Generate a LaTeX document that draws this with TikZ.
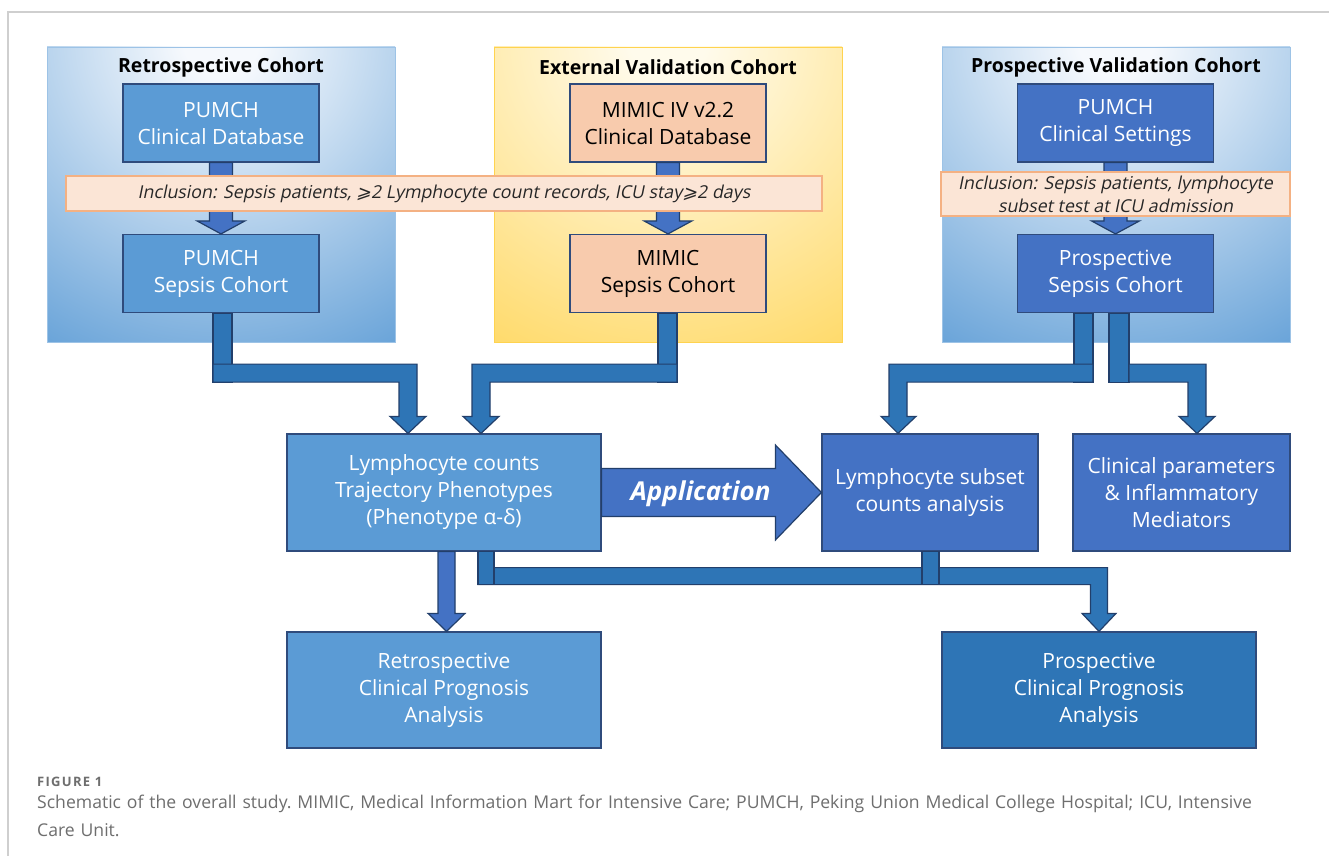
\documentclass[tikz,border=0pt]{standalone}
\usepackage{fontspec}
\setmainfont{Open Sans}
\newfontfamily\capfont{Open Sans}
\newfontfamily\inclfont{Open Sans}[FakeSlant=0.2]
\newfontfamily\symfont{DejaVu Sans}[FakeSlant=0.2]
\usetikzlibrary{calc}

\definecolor{lblue}{HTML}{5B9BD5}
\definecolor{mblue}{HTML}{4472C4}
\definecolor{dblue}{HTML}{2E75B6}
\definecolor{boxline}{HTML}{2F4B7C}
\definecolor{arrowline}{HTML}{223F6B}
\definecolor{peach}{HTML}{F8CBAD}
\definecolor{bandfill}{HTML}{FBE5D6}
\definecolor{bandline}{HTML}{F4B183}
\definecolor{glowwhite}{HTML}{F6F9FD}
\definecolor{glowcream}{HTML}{FFFBEC}
\definecolor{gold}{HTML}{FFD75E}
\definecolor{panelblueline}{HTML}{9DC3E6}
\definecolor{panelgoldline}{HTML}{FFD34F}
\definecolor{framegray}{HTML}{CFCFCF}
\definecolor{captext}{HTML}{6E6E6E}

\pgfdeclareradialshading{blueglow}{\pgfpoint{0bp}{0bp}}{color(0bp)=(glowwhite); color(2bp)=(glowwhite); color(20bp)=(lblue); color(50bp)=(lblue)}
\pgfdeclareradialshading{goldglow}{\pgfpoint{0bp}{0bp}}{color(0bp)=(glowcream); color(2bp)=(glowcream); color(20bp)=(gold); color(50bp)=(gold)}

\begin{document}
\begin{tikzpicture}[x=1pt,y=-1pt,
  box/.style={draw=boxline, line width=1.2pt, minimum width=196pt, minimum height=78pt,
    align=center, text=white, font=\fontsize{21}{27}\selectfont},
  peachbox/.style={box, fill=peach, text=black},
  band/.style={draw=bandline, line width=1.2pt, fill=bandfill, align=center,
    text=black!85, font=\inclfont\fontsize{17.8}{23}\selectfont},
  paneltitle/.style={font=\fontsize{19.5}{23}\selectfont\bfseries},
  fatarrow/.style={draw=arrowline, line width=1.2pt, fill=mblue, line join=miter},
  bar/.style={draw=arrowline, line width=1.2pt, fill=dblue, line join=miter}]
\useasboundingbox (0,0) rectangle (1329,856);
\fill[white] (0,0) rectangle (1329,856);
\draw[framegray, line width=1.2pt] (1329,12) -- (8,12) -- (8,856);

% cohort panels
\begin{scope}
  \clip (47,47) rectangle (395,342);
  \shade[shading=blueglow] (221,38) circle (480);
\end{scope}
\draw[panelblueline] (47,47) rectangle (395,342);
\begin{scope}
  \clip (494,47) rectangle (842,342);
  \shade[shading=goldglow] (668,38) circle (480);
\end{scope}
\draw[panelgoldline] (494,47) rectangle (842,342);
\begin{scope}
  \clip (942,47) rectangle (1290,342);
  \shade[shading=blueglow] (1116,38) circle (480);
\end{scope}
\draw[panelblueline] (942,47) rectangle (1290,342);

\node[paneltitle] (titleRetro) at (221,67) {Retrospective Cohort};
\node[paneltitle] (titleExt) at (668,67) {External Validation Cohort};
\node[paneltitle] (titleProsp) at (1116,67) {Prospective Validation Cohort};

% boxes
\node[box, fill=lblue] (pumchDb) at (221,123) {PUMCH\\Clinical Database};
\node[box, fill=lblue] (pumchSep) at (221,273.5) {PUMCH\\Sepsis Cohort};
\node[peachbox] (mimicDb) at (668,123) {MIMIC IV v2.2\\Clinical Database};
\node[peachbox] (mimicSep) at (668,273.5) {MIMIC\\Sepsis Cohort};
\node[box, fill=mblue] (settings) at (1115.5,123) {PUMCH\\Clinical Settings};
\node[box, fill=mblue] (prospSep) at (1115.5,273.5) {Prospective\\Sepsis Cohort};

\node[box, fill=lblue, minimum width=314pt, minimum height=117pt] (traj) at (444,492.5)
  {Lymphocyte counts\\Trajectory Phenotypes\\(Phenotype α-δ)};
\node[box, fill=mblue, minimum width=216pt, minimum height=117pt] (subset) at (930,492.5)
  {Lymphocyte subset\\counts analysis};
\node[box, fill=mblue, minimum width=217pt, minimum height=117pt] (params) at (1181.5,492.5)
  {Clinical parameters\\\& Inflammatory\\Mediators};
\node[box, fill=lblue, minimum width=314pt, minimum height=116pt] (retroProg) at (444,690)
  {Retrospective\\Clinical Prognosis\\Analysis};
\node[box, fill=dblue, minimum width=314pt, minimum height=116pt] (prospProg) at (1099,690)
  {Prospective\\Clinical Prognosis\\Analysis};

% arrows inside the panels
\foreach \a/\b in {pumchDb/pumchSep, mimicDb/mimicSep, settings/prospSep}
  \draw[fatarrow] ($(\a.south)+(-11.5,0)$) -- ($(\b.north)+(-11.5,-13)$) -- ++(-12.5,0)
    -- (\b.north) -- ++(24,-13) -- ++(-12.5,0) -- ($(\a.south)+(11.5,0)$) -- cycle;

% inclusion bands
\node[band, minimum width=756pt, minimum height=35pt] (inclLeft) at (444,193.5)
  {Inclusion: Sepsis patients, {\symfont ⩾}2 Lymphocyte count records, ICU stay{\symfont ⩾}2 days};
\node[band, minimum width=349pt, minimum height=44pt, inner sep=0pt] (inclRight) at (1115.5,194)
  {Inclusion: Sepsis patients, lymphocyte\\subset test at ICU admission};

% cohorts into the phenotypes
\draw[bar] ($(pumchSep.south)+(-8,0)$) rectangle ($(pumchSep.south)+(11,69)$);
\draw[bar] ($(pumchSep.south)+(-8,51)$) -| ($(traj.north)+(-27,-17)$) -- ++(9,0)
  -- ($(traj.north)+(-36,0)$) -- ++(-18,-17) -- ++(9,0) |- ($(pumchSep.south)+(-8,69)$) -- cycle;
\draw[bar] ($(mimicSep.south)+(-10,0)$) rectangle ($(mimicSep.south)+(9,69)$);
\draw[bar] ($(mimicSep.south)+(9,51)$) -| ($(traj.north)+(28,-17)$) -- ++(-9,0)
  -- ($(traj.north)+(37,0)$) -- ++(18,-17) -- ++(-9,0) |- ($(mimicSep.south)+(9,69)$) -- cycle;

% prospective cohort into the analyses
\draw[bar] ($(prospSep.south)+(-41.5,0)$) rectangle ($(prospSep.south)+(-22.5,69)$);
\draw[bar] ($(prospSep.south)+(-6.5,0)$) rectangle ($(prospSep.south)+(13.5,69)$);
\draw[bar] ($(prospSep.south)+(-22.5,51)$) -| ($(subset.north)+(-41,-17)$) -- ++(-8,0)
  -- ($(subset.north)+(-32,0)$) -- ++(18,-17) -- ++(-9,0) |- ($(prospSep.south)+(-22.5,69)$) -- cycle;
\draw[bar] ($(prospSep.south)+(13.5,51)$) -| ($(params.north)+(24.5,-17)$) -- ++(9,0)
  -- ($(params.north)+(15.5,0)$) -- ++(-18,-17) -- ++(9,0) |- ($(prospSep.south)+(13.5,69)$) -- cycle;

% application
\draw[fatarrow] ($(traj.east)+(0,-24)$) -- ($(subset.west)+(-46,-24)$) -- ++(0,-23.5)
  -- (subset.west) -- ++(-46,47.5) -- ++(0,-23.5) -- ($(traj.east)+(0,24)$) -- cycle;
\node[font=\fontsize{26}{30}\selectfont\bfseries\itshape, text=white] (appLabel)
  at ($(traj.east)!0.45!(subset.west)+(0,1)$) {Application};

% prognosis
\draw[fatarrow] ($(traj.south)+(-6,0)$) -- ($(retroProg.north)+(-6,-18)$) -- ++(-10,0)
  -- ($(retroProg.north)+(2.5,0)$) -- ++(18.5,-18) -- ++(-10,0) -- ($(traj.south)+(11,0)$) -- cycle;
\draw[bar] ($(traj.south)+(34,16)$) -| ($(prospProg.north)+(8.5,-18)$) -- ++(8.5,0)
  -- (prospProg.north) -- ++(-17,-18) -- ++(8.5,0) |- ($(traj.south)+(34,33)$) -- cycle;
\draw[bar] ($(traj.south)+(34,0)$) rectangle ($(traj.south)+(50,33)$);
\draw[bar] ($(subset.south)+(-8,0)$) rectangle ($(subset.south)+(9,33)$);

% caption
\node[anchor=base west, inner sep=0pt, text=captext,
  font=\capfont\bfseries\fontsize{13}{15}\selectfont\addfontfeatures{LetterSpace=10}]
  (figLabel) at (37,786) {FIGURE 1};
\node[anchor=base west, inner sep=0pt, text=captext, text width=1285pt, align=left,
  font=\capfont\fontsize{17.6}{28}\selectfont\frenchspacing] (figCaption) at (37,808)
  {Schematic of the overall study. MIMIC, Medical Information Mart for Intensive Care; PUMCH, Peking Union Medical College Hospital; ICU, Intensive\\Care Unit.};
\end{tikzpicture}
\end{document}
